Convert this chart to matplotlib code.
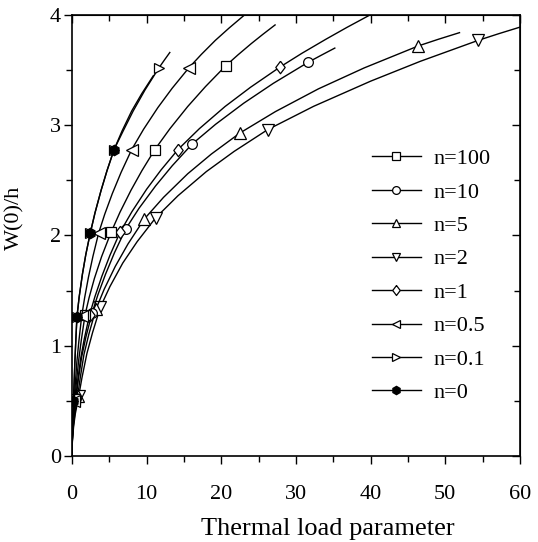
import numpy as np
import matplotlib.pyplot as plt
from matplotlib.ticker import MultipleLocator

plt.rcParams['font.family'] = ['Liberation Serif', 'DejaVu Serif']

# curves (x = thermal load parameter, y = W(0)/h)
x_n100 = [0, 0.0045, 0.025, 0.1, 0.2, 0.4, 0.6, 0.9, 1.255, 1.75, 2.291, 3.0, 3.965,
          5.24, 6.434, 7.9, 9.364, 11.1, 13.12, 15.5, 17.87, 20.6, 22.24, 24.0, 25.55, 27.2]
y_n100 = [0, 0.055, 0.13, 0.26, 0.368, 0.52, 0.673, 0.87, 1.055, 1.28, 1.436, 1.61, 1.808,
          2.03, 2.212, 2.41, 2.588, 2.78, 2.969, 3.17, 3.35, 3.54, 3.639, 3.74, 3.824, 3.91]

x_n10 = [0, 0.0065, 0.035, 0.14, 0.277, 0.55, 0.846, 1.3, 1.873, 2.7, 3.486, 4.5,
         5.692, 7.2, 8.98, 11.2, 13.43, 16.1, 19.24, 23.0, 26.96, 31.6, 33.35, 35.2]
y_n10 = [0, 0.056, 0.13, 0.26, 0.371, 0.53, 0.691, 0.9, 1.082, 1.30, 1.465, 1.65,
         1.844, 2.06, 2.247, 2.45, 2.633, 2.83, 3.009, 3.20, 3.38, 3.57, 3.634, 3.70]

x_n5 = [0, 0.009, 0.048, 0.19, 0.377, 0.75, 1.095, 1.6, 2.263, 3.2, 4.308, 5.8,
        7.497, 9.69, 12.26, 15.5, 18.67, 22.5, 27.25, 33.0, 39.13, 46.4, 49.07, 51.9]
y_n5 = [0, 0.06, 0.135, 0.27, 0.382, 0.54, 0.705, 0.92, 1.106, 1.33, 1.512, 1.72,
        1.923, 2.15, 2.346, 2.56, 2.739, 2.93, 3.124, 3.33, 3.52, 3.72, 3.78, 3.84]

x_n2 = [0, 0.01, 0.055, 0.22, 0.443, 0.89, 1.334, 2.0, 2.757, 3.8, 5.083, 6.8,
        8.727, 11.2, 14.2, 18.0, 21.72, 26.2, 32.37, 40.0, 46.65, 54.4, 57.13, 60.0]
y_n2 = [0, 0.06, 0.135, 0.27, 0.382, 0.54, 0.709, 0.93, 1.12, 1.35, 1.537, 1.75,
        1.944, 2.16, 2.361, 2.58, 2.763, 2.96, 3.172, 3.40, 3.58, 3.77, 3.83, 3.89]

x_n1 = [0, 0.0055, 0.03, 0.12, 0.245, 0.5, 0.758, 1.15, 1.644, 2.35, 3.066, 4.0, 5.075,
        6.44, 8.025, 10.0, 11.92, 14.2, 17.06, 20.5, 23.92, 27.9, 30.8, 34.0, 36.83, 39.9]
y_n1 = [0, 0.056, 0.13, 0.26, 0.368, 0.52, 0.676, 0.88, 1.061, 1.28, 1.444, 1.63, 1.819,
        2.03, 2.216, 2.42, 2.594, 2.78, 2.969, 3.17, 3.345, 3.53, 3.653, 3.78, 3.888, 4.0]

x_n05 = [0, 0.0035, 0.02, 0.08, 0.155, 0.3, 0.442, 0.65, 0.919, 1.3, 1.691, 2.2, 2.799,
         3.56, 4.385, 5.4, 6.573, 8.0, 9.592, 11.5, 13.41, 15.64, 17.33, 19.2, 21.06, 23.1]
y_n05 = [0, 0.053, 0.125, 0.25, 0.354, 0.5, 0.652, 0.85, 1.039, 1.27, 1.434, 1.62, 1.809,
         2.02, 2.193, 2.38, 2.572, 2.78, 2.964, 3.16, 3.335, 3.52, 3.643, 3.77, 3.883, 4.0]

x_n01 = [0, 0.0023, 0.0125, 0.05, 0.1, 0.2, 0.276, 0.38, 0.501, 0.66, 0.961, 1.4,
         1.848, 2.44, 3.085, 3.9, 4.69, 5.64, 6.867, 8.2, 9.77, 11.64, 12.35, 13.1]
y_n01 = [0, 0.053, 0.125, 0.25, 0.354, 0.5, 0.648, 0.84, 1.029, 1.26, 1.442, 1.65,
         1.826, 2.02, 2.206, 2.41, 2.588, 2.78, 2.95, 3.13, 3.319, 3.52, 3.589, 3.66]

x_n0 = [0, 0.0023, 0.0125, 0.05, 0.1, 0.2, 0.276, 0.38, 0.501, 0.66, 0.961, 1.4,
        1.848, 2.44, 3.085, 3.9, 4.69, 5.64, 6.717, 8.0, 9.338, 10.9]
y_n0 = [0, 0.053, 0.125, 0.25, 0.354, 0.5, 0.648, 0.84, 1.029, 1.26, 1.442, 1.65,
        1.826, 2.02, 2.206, 2.41, 2.588, 2.78, 2.95, 3.13, 3.286, 3.45]

labels = ['n=100', 'n=10', 'n=5', 'n=2', 'n=1', 'n=0.5', 'n=0.1', 'n=0']

# tall diamond
diamond = [(0, 1), (0.75, 0), (0, -1), (-0.75, 0), (0, 1)]

# drawing order: n=0 last so its dots sit on top
series = [
    (x_n2, y_n2, 'v', 8, 'white', 'n=2'),
    (x_n5, y_n5, '^', 8, 'white', 'n=5'),
    (x_n10, y_n10, 'o', 7, 'white', 'n=10'),
    (x_n1, y_n1, diamond, 9, 'white', 'n=1'),
    (x_n100, y_n100, 's', 6.5, 'white', 'n=100'),
    (x_n05, y_n05, '<', 8, 'white', 'n=0.5'),
    (x_n01, y_n01, '>', 7.5, 'white', 'n=0.1'),
    (x_n0, y_n0, 'h', 7.5, 'black', 'n=0'),
]

fig = plt.figure(figsize=(5.38, 5.42), dpi=100)
ax = fig.add_axes([0.1338, 0.1587, 0.8327, 0.8136])

handles = {}
for xs, ys, mk, ms, fc, lab in series:
    line, = ax.plot(xs, ys, color='black', lw=1.0, marker=mk, markersize=ms,
                    markerfacecolor=fc, markeredgecolor='black', markeredgewidth=0.9,
                    markevery=list(range(5, len(xs) - 1, 4)), label=lab)
    handles[lab] = line

ax.set_xlim(0, 60)
ax.set_ylim(0, 4)
ax.xaxis.set_major_locator(MultipleLocator(10))
ax.xaxis.set_minor_locator(MultipleLocator(5))
ax.yaxis.set_major_locator(MultipleLocator(1))
ax.yaxis.set_minor_locator(MultipleLocator(0.5))
ax.tick_params(which='both', direction='out', width=1.0, labelsize=16)
ax.tick_params(which='major', length=6)
ax.tick_params(which='minor', length=4)
ax.tick_params(axis='x', pad=15)
ax.tick_params(axis='y', pad=2)
for sp in ax.spines.values():
    sp.set_linewidth(1.2)

# mirrored ticks pointing inward on top and right
top = ax.secondary_xaxis('top')
top.xaxis.set_major_locator(MultipleLocator(10))
top.xaxis.set_minor_locator(MultipleLocator(5))
top.tick_params(which='both', direction='in', labeltop=False, width=1.0)
top.tick_params(which='major', length=6)
top.tick_params(which='minor', length=4)
right = ax.secondary_yaxis('right')
right.yaxis.set_major_locator(MultipleLocator(1))
right.yaxis.set_minor_locator(MultipleLocator(0.5))
right.tick_params(which='both', direction='in', labelright=False, width=1.0)
right.tick_params(which='major', length=6)
right.tick_params(which='minor', length=4)

ax.set_xlabel('Thermal load parameter', fontsize=19)
ax.set_ylabel('W(0)/h', fontsize=16)
ax.xaxis.set_label_coords(0.571, -0.141)
ax.yaxis.set_label_coords(-0.105, 0.54)

ax.legend([handles[l] for l in labels], labels, loc='upper left',
          bbox_to_anchor=(0.691, 0.726), bbox_transform=fig.transFigure,
          frameon=False, fontsize=16, handlelength=2.2, handletextpad=0.6,
          labelspacing=0.58, markerscale=0.8, borderpad=0, borderaxespad=0)

fig.savefig('out.png', dpi=100)
